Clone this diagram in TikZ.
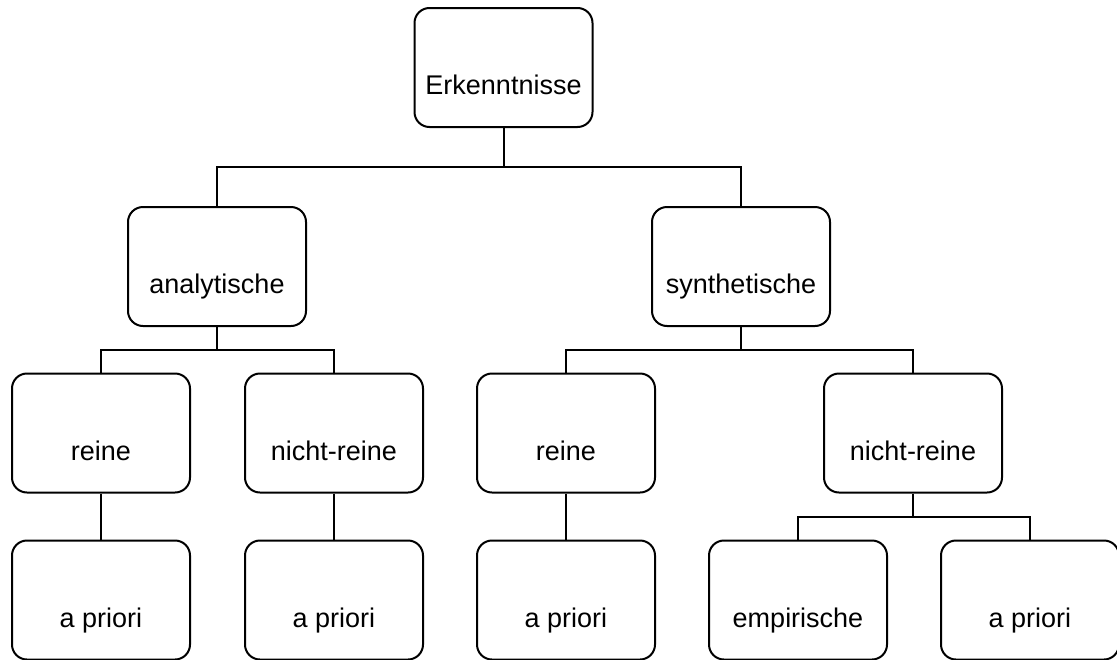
\documentclass[tikz,border=0pt]{standalone}
\usepackage{fontspec}
\setmainfont{Liberation Sans}
\usepackage{tikz}

\begin{document}
\begin{tikzpicture}
			[x=1pt,y=-1pt,
			 n/.style= {font=\fontsize{27}{31}\selectfont,minimum width=178pt,minimum height=119pt,
			            text height=54pt,text depth=0pt,rounded corners=15pt,line width=2pt,draw=black},
			 l/.style= {line width=2pt,draw=black}]

			\useasboundingbox (0,0) rectangle (1117,659);

			\node[n] (erk) at (503.5,67.5) {Erkenntnisse};

			\node[n] (ana) at (217,266.5) {analytische};
			\node[n] (syn) at (741,266.5) {synthetische};

			\node[n] (ar)  at (101,433) {reine};
			\node[n] (anr) at (334,433) {nicht-reine};
			\node[n] (sr)  at (566,433) {reine};
			\node[n] (snr) at (913,433) {nicht-reine};

			\node[n] (ara)  at (101,600) {a priori};
			\node[n] (anra) at (334,600) {a priori};
			\node[n] (sra)  at (566,600) {a priori};
			\node[n] (semp) at (798,600) {empirische};
			\node[n] (snra) at (1030,600) {a priori};

			% verbindungen
			\coordinate (b0) at (503.5,167);
			\coordinate (b1) at (217,350);
			\coordinate (b2) at (741,350);
			\coordinate (b3) at (913,517);

			\draw[l] (erk.south) -- (b0) -| (ana.north);
			\draw[l] (b0) -| (syn.north);
			\draw[l] (ana.south) -- (b1) -| (ar.north);
			\draw[l] (b1) -| (anr.north);
			\draw[l] (syn.south) -- (b2) -| (sr.north);
			\draw[l] (b2) -| (snr.north);
			\draw[l] (snr.south) -- (b3) -| (semp.north);
			\draw[l] (b3) -| (snra.north);

			\draw[l] (ar.south) -- (ara.north);
			\draw[l] (anr.south) -- (anra.north);
			\draw[l] (sr.south) -- (sra.north);

		\end{tikzpicture}
\end{document}
